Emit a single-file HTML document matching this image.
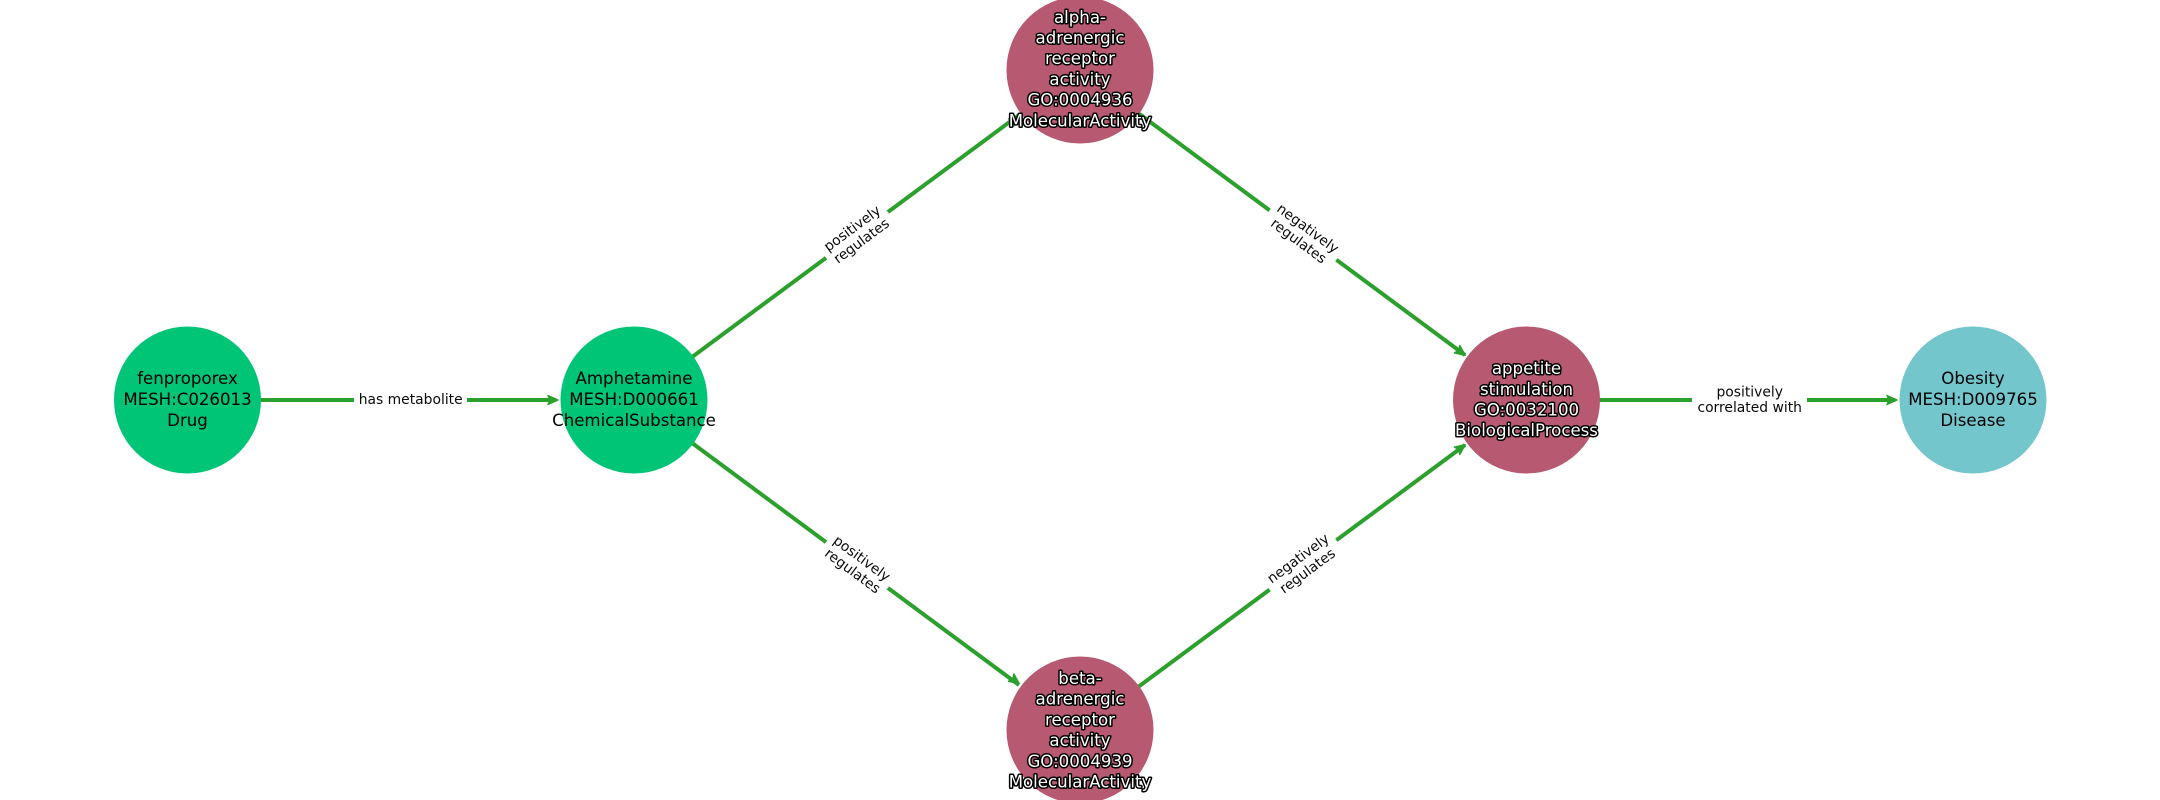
<!DOCTYPE html>
<html><head><meta charset="utf-8"><style>
html,body{margin:0;padding:0;background:#fff}
svg{display:block}
text{font-family:"DejaVu Sans",sans-serif;text-anchor:middle}
.n{font-size:16.6px;fill:#000}
.h{font-size:16.6px;fill:#fff;stroke:#000;stroke-width:3px;paint-order:stroke;stroke-linejoin:round}
.e{font-size:13.89px;fill:#0a0a0a}
.l{stroke:#2ca02c;stroke-width:4;fill:none}
.a{fill:#2ca02c;stroke:#2ca02c;stroke-width:1.5;stroke-linejoin:round}
</style></head><body>
<svg width="2160" height="800" viewBox="0 0 2160 800" xmlns="http://www.w3.org/2000/svg">
<rect width="2160" height="800" fill="#fff"/>
<g class="l">
<line x1="187.5" y1="400" x2="556" y2="400"/>
<line x1="634" y1="400" x2="1019" y2="115"/>
<line x1="634" y1="400" x2="1019" y2="685"/>
<line x1="1080" y1="70" x2="1465" y2="355"/>
<line x1="1080" y1="730" x2="1465" y2="445"/>
<line x1="1526.5" y1="400" x2="1895" y2="400"/>
</g>
<g class="a">
<polygon points="-1,0 -11,-4.5 -9,0 -11,4.5" transform="translate(559,400)"/>
<polygon points="-1,0 -11,-4.5 -9,0 -11,4.5" transform="translate(1020,115.8) rotate(-36.5)"/>
<polygon points="-1,0 -11,-4.5 -9,0 -11,4.5" transform="translate(1020,684.2) rotate(36.5)"/>
<polygon points="-1,0 -11,-4.5 -9,0 -11,4.5" transform="translate(1466,355.8) rotate(36.5)"/>
<polygon points="-1,0 -11,-4.5 -9,0 -11,4.5" transform="translate(1466,444.2) rotate(-36.5)"/>
<polygon points="-1,0 -11,-4.5 -9,0 -11,4.5" transform="translate(1898,400)"/>
</g>
<circle cx="187.5" cy="400" r="73.5" fill="#00c476"/>
<circle cx="634" cy="400" r="73.5" fill="#00c476"/>
<circle cx="1080" cy="70" r="73.5" fill="#b75970"/>
<circle cx="1080" cy="730" r="73.5" fill="#b75970"/>
<circle cx="1526.5" cy="400" r="73.5" fill="#b75970"/>
<circle cx="1973" cy="400" r="73.5" fill="#73c6cc"/>
<g fill="#fff">
<rect x="354" y="385" width="113" height="30"/>
<rect x="1692" y="385" width="115" height="30"/>
<rect x="-38.5" y="-20" width="77" height="40" transform="translate(857,235) rotate(-36.5)"/>
<rect x="-38.5" y="-20" width="77" height="40" transform="translate(857,565) rotate(36.5)"/>
<rect x="-41.5" y="-20" width="83" height="40" transform="translate(1303,235) rotate(36.5)"/>
<rect x="-41.5" y="-20" width="83" height="40" transform="translate(1303,565) rotate(-36.5)"/>
</g>
<text class="e" x="410.7" y="404">has metabolite</text>
<text class="e" x="1749.7" y="396.5">positively</text>
<text class="e" x="1749.7" y="412">correlated with</text>
<g transform="translate(857,235) rotate(-36.5)"><text class="e" y="-3.5">positively</text><text class="e" y="12">regulates</text></g>
<g transform="translate(857,565) rotate(36.5)"><text class="e" y="-3.5">positively</text><text class="e" y="12">regulates</text></g>
<g transform="translate(1303,235) rotate(36.5)"><text class="e" y="-3.5">negatively</text><text class="e" y="12">regulates</text></g>
<g transform="translate(1303,565) rotate(-36.5)"><text class="e" y="-3.5">negatively</text><text class="e" y="12">regulates</text></g>
<text class="n" x="187.5" y="384">fenproporex</text>
<text class="n" x="187.5" y="405">MESH:C026013</text>
<text class="n" x="187.5" y="426">Drug</text>
<text class="n" x="634" y="384">Amphetamine</text>
<text class="n" x="634" y="405">MESH:D000661</text>
<text class="n" x="634" y="426">ChemicalSubstance</text>
<text class="n" x="1973" y="384">Obesity</text>
<text class="n" x="1973" y="405">MESH:D009765</text>
<text class="n" x="1973" y="426">Disease</text>
<text class="h" x="1526.5" y="374">appetite</text>
<text class="h" x="1526.5" y="395">stimulation</text>
<text class="h" x="1526.5" y="415.5">GO:0032100</text>
<text class="h" x="1526.5" y="436">BiologicalProcess</text>
<text class="h" x="1080" y="23">alpha-</text>
<text class="h" x="1080" y="43.5">adrenergic</text>
<text class="h" x="1080" y="64">receptor</text>
<text class="h" x="1080" y="85">activity</text>
<text class="h" x="1080" y="105.5">GO:0004936</text>
<text class="h" x="1080" y="126.5">MolecularActivity</text>
<text class="h" x="1080" y="684">beta-</text>
<text class="h" x="1080" y="704.5">adrenergic</text>
<text class="h" x="1080" y="725.5">receptor</text>
<text class="h" x="1080" y="746">activity</text>
<text class="h" x="1080" y="767">GO:0004939</text>
<text class="h" x="1080" y="787.5">MolecularActivity</text>
</svg>
</body></html>
